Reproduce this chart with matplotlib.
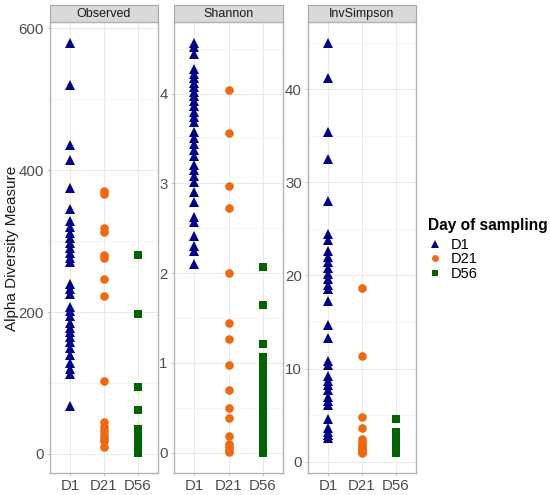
import matplotlib
matplotlib.use("Agg")
import matplotlib.pyplot as plt
import matplotlib.patches as mpatches
from matplotlib.lines import Line2D
from matplotlib.ticker import MultipleLocator

plt.rcParams['font.family'] = ['Liberation Sans', 'DejaVu Sans']

# Data
groups = ["D1", "D21", "D56"]
measures = ["Observed", "Shannon", "InvSimpson"]

observed_d1 = [580, 520, 435, 415, 375, 345, 328, 320, 312, 305, 298, 290, 283, 276, 270, 240,
               233, 225, 207, 201, 195, 185, 178, 172, 165, 158, 150, 140, 128, 120, 112, 68]
observed_d21 = [370, 366, 318, 313, 281, 276, 247, 222, 103, 45, 38, 32, 27, 22, 18, 10]
observed_d56 = [281, 197, 95, 62, 35, 32, 30, 28, 26, 24, 22, 20, 18, 16, 14, 12,
                10, 9, 8, 6, 5, 4, 3, 2]

shannon_d1 = [4.57, 4.52, 4.44, 4.27, 4.22, 4.17, 4.12, 4.07, 4.02, 3.97, 3.92, 3.86, 3.80, 3.74,
              3.68, 3.57, 3.50, 3.44, 3.37, 3.30, 3.21, 3.15, 3.08, 3.02, 2.90, 2.79, 2.63, 2.57,
              2.41, 2.30, 2.25, 2.10]
shannon_d21 = [4.04, 3.56, 2.97, 2.72, 2.00, 1.44, 1.26, 0.98, 0.70, 0.50, 0.38, 0.18, 0.10,
               0.06, 0.03, 0.01]
shannon_d56 = [2.07, 1.64, 1.21, 1.07, 0.97, 0.89, 0.83, 0.77, 0.71, 0.65, 0.58, 0.51, 0.45,
               0.40, 0.34, 0.29, 0.24, 0.16, 0.12, 0.08, 0.05, 0.03, 0.01, 0.00]

invsimpson_d1 = [45.0, 41.2, 35.4, 32.5, 28.0, 24.4, 23.8, 22.6, 22.0, 21.4, 20.8, 20.2, 19.6,
                 19.0, 18.6, 17.3, 14.7, 13.3, 10.8, 10.4, 9.2, 8.7, 8.2, 7.7, 7.0, 6.5, 6.1,
                 4.6, 3.6, 3.2, 2.9, 2.6]
invsimpson_d21 = [18.7, 11.4, 4.8, 3.6, 2.5, 2.1, 1.8, 1.6, 1.5, 1.4, 1.3, 1.2, 1.1, 1.05,
                  1.02, 1.0]
invsimpson_d56 = [4.6, 3.2, 2.6, 2.4, 2.2, 2.0, 1.9, 1.8, 1.7, 1.6, 1.5, 1.45, 1.4, 1.35, 1.3,
                  1.25, 1.2, 1.15, 1.1, 1.08, 1.05, 1.03, 1.01, 1.0]

panel_data = {
    "Observed": [observed_d1, observed_d21, observed_d56],
    "Shannon": [shannon_d1, shannon_d21, shannon_d56],
    "InvSimpson": [invsimpson_d1, invsimpson_d21, invsimpson_d56],
}
major_step = {"Observed": 200, "Shannon": 1, "InvSimpson": 10}

colors = {"D1": "#00008B", "D21": "#F0690F", "D56": "#006400"}
markers = {"D1": "^", "D21": "o", "D56": "s"}
msizes = {"D1": 7.5, "D21": 6.2, "D56": 5.6}

W, H = 550, 495
fig = plt.figure(figsize=(W / 100, H / 100), dpi=100)

# panel pixel boxes (left, right); top/bottom shared
panel_x = [(50, 158), (174, 283), (308, 416)]
top_px, bot_px = 22, 473
strip_h = 17

for (x0, x1), name in zip(panel_x, measures):
    ax = fig.add_axes([x0 / W, 1 - bot_px / H, (x1 - x0) / W, (bot_px - top_px) / H])
    for i, g in enumerate(groups):
        vals = panel_data[name][i]
        ax.plot([i + 1] * len(vals), vals, linestyle='none', marker=markers[g],
                markersize=msizes[g], color=colors[g], markeredgewidth=0, zorder=3)
    ax.set_xlim(0.4, 3.6)
    allv = [v for grp in panel_data[name] for v in grp]
    lo, hi = min(allv), max(allv)
    pad = 0.05 * (hi - lo)
    ax.set_ylim(lo - pad, hi + pad)
    ax.set_xticks([1, 2, 3])
    ax.set_xticklabels(groups)
    ax.yaxis.set_major_locator(MultipleLocator(major_step[name]))
    ax.yaxis.set_minor_locator(MultipleLocator(major_step[name] / 2))
    ax.grid(True, which='major', color='#EBEBEB', linewidth=0.7, zorder=0)
    ax.grid(True, which='minor', axis='y', color='#F3F3F3', linewidth=0.5, zorder=0)
    ax.set_axisbelow(True)
    ax.tick_params(axis='both', which='major', labelsize=10.8, labelcolor='#4D4D4D',
                   color='#B3B3B3', length=2.5, width=0.5, pad=2)
    ax.tick_params(axis='y', which='minor', length=0)
    for sp in ax.spines.values():
        sp.set_color('#B3B3B3')
        sp.set_linewidth(1.0)
    # facet strip
    h = strip_h / (bot_px - top_px)
    ax.add_patch(mpatches.Rectangle((0, 1), 1, h, transform=ax.transAxes, clip_on=False,
                                    facecolor='#D9D9D9', edgecolor='#A6A6A6', linewidth=0.8))
    ax.text(0.5, 1 + h / 2, name, transform=ax.transAxes, ha='center', va='center',
            fontsize=9, color='#1A1A1A')

fig.text(12 / W, 1 - 248 / H, "Alpha Diversity Measure", rotation=90, ha='center',
         va='center', fontsize=11, color='#1A1A1A')

handles = [Line2D([0], [0], linestyle='none', marker=markers[g], color=colors[g],
                  markersize=msizes[g] * 0.8, markeredgewidth=0, label=g) for g in groups]
leg = fig.legend(handles=handles, title="Day of sampling", loc='upper left',
                 bbox_to_anchor=(422 / W, 1 - 212 / H), frameon=False, fontsize=10.5,
                 title_fontsize=11.2, handlelength=1.0, handletextpad=0.6,
                 labelspacing=0.05, borderaxespad=0)
leg.get_title().set_fontweight('bold')
leg._legend_box.align = "left"
leg._legend_box.sep = 3.5

fig.savefig("out.png", dpi=100)
